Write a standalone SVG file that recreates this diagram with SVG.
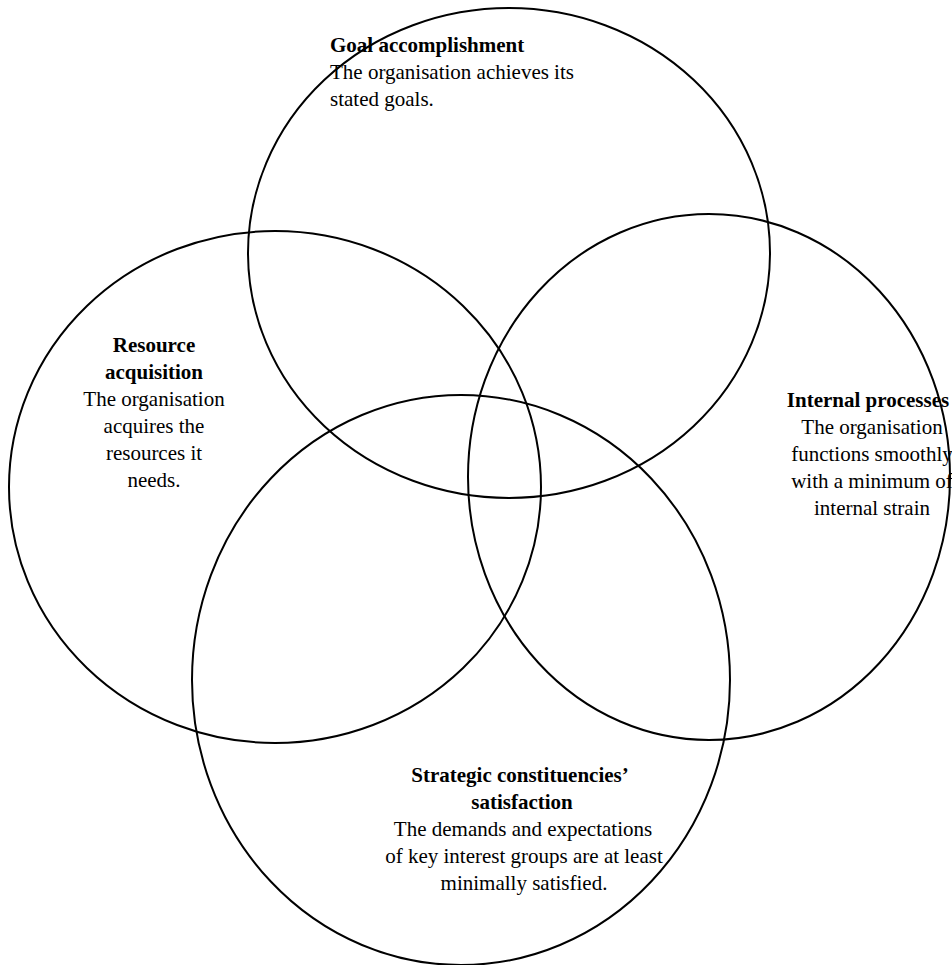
<svg xmlns="http://www.w3.org/2000/svg" width="952" height="965" viewBox="0 0 952 965">
  <style>
    .ring { fill: none; stroke: #000; stroke-width: 2; }
    text { font-family: "Liberation Serif", "Times New Roman", serif; font-size: 21px; fill: #000; }
    .title { font-weight: bold; }
    .mid { text-anchor: middle; }
  </style>
  <rect width="952" height="965" fill="#fff"/>
  <g id="goal">
    <ellipse class="ring" cx="509" cy="253" rx="261" ry="245"/>
    <text x="330" y="52" class="title">Goal accomplishment</text>
    <text x="330" y="79">The organisation achieves its</text>
    <text x="330" y="106">stated goals.</text>
  </g>
  <g id="resource">
    <ellipse class="ring" cx="275" cy="487" rx="266" ry="256"/>
    <g class="mid">
      <text x="154" y="352" class="title">Resource</text>
      <text x="154" y="379" class="title">acquisition</text>
      <text x="154" y="406">The organisation</text>
      <text x="154" y="433">acquires the</text>
      <text x="154" y="460">resources it</text>
      <text x="154" y="487">needs.</text>
    </g>
  </g>
  <g id="internal">
    <ellipse class="ring" cx="709" cy="477" rx="241" ry="263"/>
    <g class="mid">
      <text x="868" y="407" class="title" font-size="20.5">Internal processes</text>
      <text x="872" y="434">The organisation</text>
      <text x="872" y="461">functions smoothly</text>
      <text x="872" y="488">with a minimum of</text>
      <text x="872" y="515">internal strain</text>
    </g>
  </g>
  <g id="strategic">
    <ellipse class="ring" cx="461" cy="680" rx="269" ry="285"/>
    <g class="mid">
      <text x="520" y="782" class="title">Strategic constituencies’</text>
      <text x="522" y="809" class="title">satisfaction</text>
      <text x="523" y="836">The demands and expectations</text>
      <text x="524" y="863">of key interest groups are at least</text>
      <text x="524" y="890">minimally satisfied.</text>
    </g>
  </g>
  <g id="connectors"/>
</svg>
